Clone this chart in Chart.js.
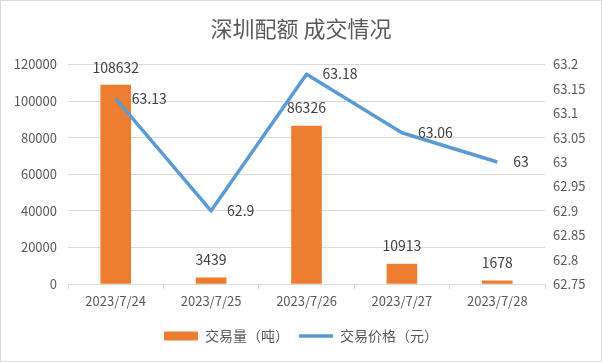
<!DOCTYPE html>
<html lang="zh">
<head>
<meta charset="UTF-8">
<title>深圳配额 成交情况</title>
<script src="https://cdn.jsdelivr.net/npm/chart.js@4.4.0/dist/chart.umd.min.js"></script>
<style>
    * { margin: 0; padding: 0; box-sizing: border-box; }
    body { width: 602px; height: 362px; background: #fff; overflow: hidden; }
    .frame { width: 602px; height: 362px; border: 1px solid #d9d9d9; position: relative; }
    canvas { display: block; }
</style>
</head>
<body>
<div class="frame">
    <canvas id="chart" width="600" height="360"></canvas>
</div>
<script>
    const dates = ['2023/7/24', '2023/7/25', '2023/7/26', '2023/7/27', '2023/7/28'];
    const volume = [108632, 3439, 86326, 10913, 1678];
    const price = [63.13, 62.9, 63.18, 63.06, 63];

    const FONT = "'Noto Sans CJK SC', 'Noto Sans', sans-serif";
    const textGrey = '#595959';

    // value labels: above bars, to the right of line points
    const valueLabels = {
        id: 'valueLabels',
        afterDatasetsDraw(chart) {
            const ctx = chart.ctx;
            ctx.save();
            ctx.font = '14px ' + FONT;
            ctx.fillStyle = '#404040';
            ctx.textBaseline = 'middle';
            chart.data.datasets.forEach((ds, i) => {
                const meta = chart.getDatasetMeta(i);
                meta.data.forEach((el, j) => {
                    if (ds.type === 'bar') {
                        ctx.textAlign = 'center';
                        ctx.fillText(String(ds.data[j]), el.x, el.y - 18);
                    } else {
                        ctx.textAlign = 'left';
                        ctx.fillText(String(ds.data[j]), el.x + 16, el.y);
                    }
                });
            });
            ctx.restore();
        }
    };

    new Chart(document.getElementById('chart'), {
        data: {
            labels: dates,
            datasets: [
                {
                    type: 'line',
                    label: '交易价格（元）',
                    data: price,
                    yAxisID: 'y1',
                    borderColor: '#5B9BD5',
                    backgroundColor: '#5B9BD5',
                    borderWidth: 3.5,
                    tension: 0,
                    pointRadius: 0,
                    borderJoinStyle: 'round'
                },
                {
                    type: 'bar',
                    label: '交易量（吨）',
                    data: volume,
                    yAxisID: 'y',
                    backgroundColor: '#ED7D31',
                    barThickness: 30
                }
            ]
        },
        options: {
            responsive: false,
            animation: false,
            layout: { padding: { left: 0, right: 0, top: 0, bottom: 8 } },
            plugins: {
                title: {
                    display: true,
                    text: '深圳配额 成交情况',
                    color: textGrey,
                    font: { family: FONT, size: 22, weight: 'normal' },
                    padding: { top: 14, bottom: 23 }
                },
                legend: {
                    position: 'bottom',
                    labels: {
                        color: textGrey,
                        font: { family: FONT, size: 14 },
                        usePointStyle: true,
                        pointStyleWidth: 34,
                        boxHeight: 9,
                        padding: 10,
                        generateLabels(chart) {
                            const items = Chart.defaults.plugins.legend.labels.generateLabels(chart);
                            items.sort((a, b) => b.datasetIndex - a.datasetIndex);
                            items.forEach(it => {
                                if (it.datasetIndex === 1) {
                                    it.pointStyle = 'rect';
                                    it.lineWidth = 0;
                                } else {
                                    it.pointStyle = 'line';
                                    it.lineWidth = 3.5;
                                    it.strokeStyle = '#5B9BD5';
                                }
                            });
                            return items;
                        }
                    }
                },
                tooltip: { enabled: false }
            },
            scales: {
                x: {
                    offset: true,
                    grid: { offset: true, drawOnChartArea: false, drawTicks: true, tickLength: 5, color: '#d9d9d9' },
                    border: { color: '#d9d9d9' },
                    ticks: { color: textGrey, font: { family: FONT, size: 13 }, padding: 4, maxRotation: 0 },
                    afterFit(s) { s.height = 35; }
                },
                y: {
                    position: 'left',
                    min: 0,
                    max: 120000,
                    grid: { color: '#d9d9d9', drawTicks: false },
                    border: { display: false },
                    ticks: {
                        stepSize: 20000,
                        color: textGrey,
                        font: { family: FONT, size: 13 },
                        padding: 11,
                        callback: v => String(v)
                    },
                    afterFit(s) { s.width = 67; }
                },
                y1: {
                    position: 'right',
                    min: 62.75,
                    max: 63.2,
                    grid: { drawOnChartArea: false, drawTicks: false },
                    border: { display: false },
                    ticks: {
                        stepSize: 0.05,
                        color: textGrey,
                        font: { family: FONT, size: 13 },
                        padding: 8,
                        callback: v => String(Number(v.toFixed(2)))
                    },
                    afterFit(s) { s.width = 56; }
                }
            }
        },
        plugins: [valueLabels]
    });
</script>
</body>
</html>
